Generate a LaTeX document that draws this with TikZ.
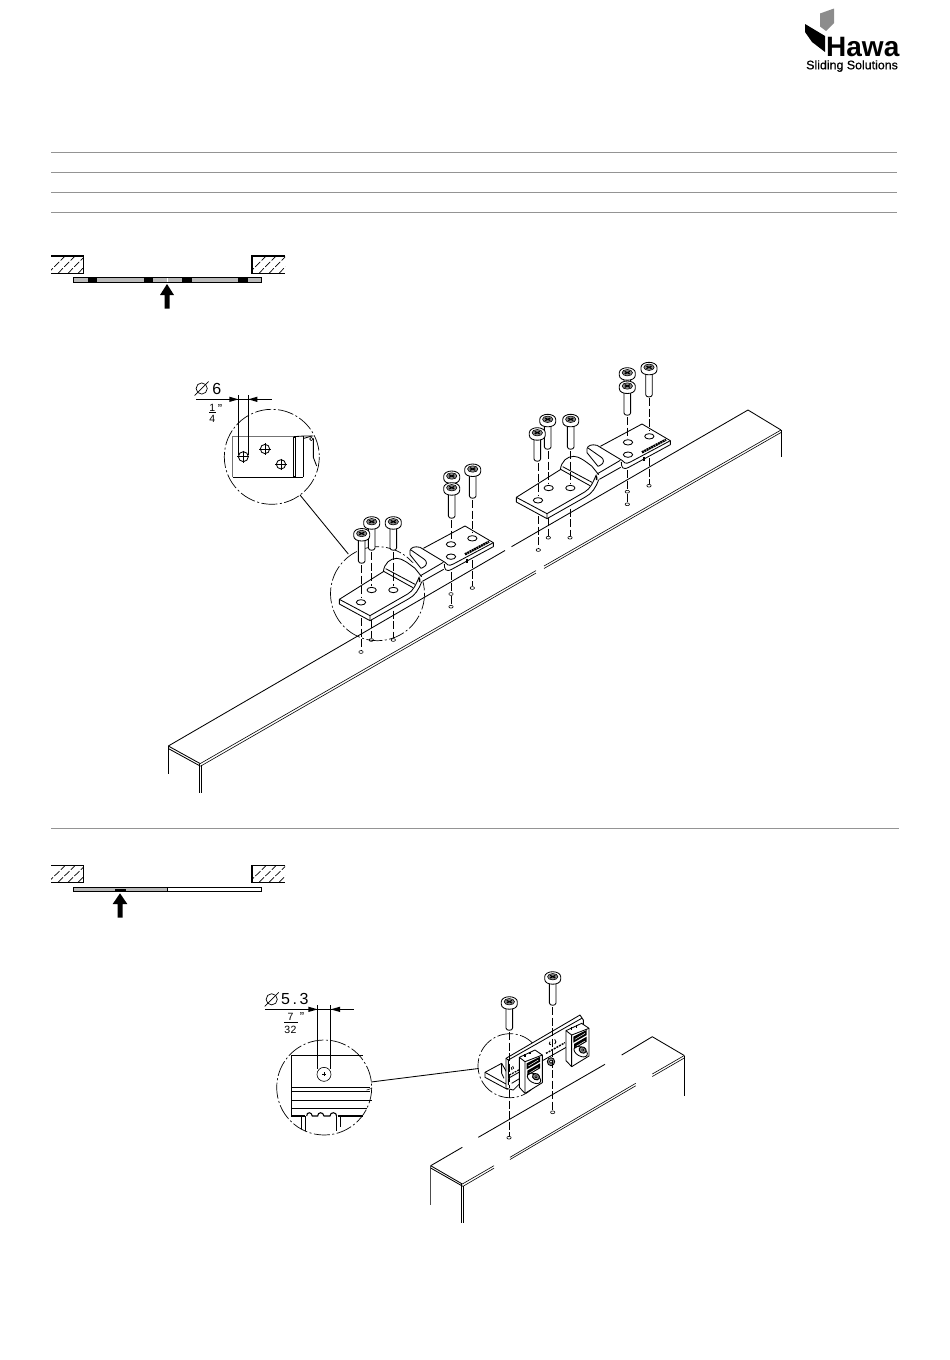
\documentclass[tikz,border=0pt]{standalone}
\usepackage{fontspec}
\setmainfont{Liberation Sans}
\usetikzlibrary{patterns}
\tikzset{
 ln/.style={line width=0.85pt,black,line join=round},
 thin ln/.style={line width=0.6pt,black,line join=round},
 rule/.style={line width=0.9pt,black!42},
 wall/.style={line width=1.4pt,black},
 bar/.style={draw=black,line width=0.9pt,fill=black!27},
 dashline/.style={line width=0.8pt,black,dash pattern=on 8pt off 2.5pt},
 detail/.style={line width=0.7pt,black,dash pattern=on 16pt off 2.5pt on 2pt off 2.5pt},
 dimtext/.style={inner sep=0pt,font=\fontsize{16}{16}\selectfont},
 fractext/.style={inner sep=0pt,font=\fontsize{10.5}{11}\selectfont},
 inchtext/.style={inner sep=0pt,font=\fontsize{13}{13}\selectfont},
}
\newcommand\myscrew[3]{%
 \begin{scope}[shift={(#1,#2)}]
  \filldraw[ln,fill=white] (-3.3,3) -- (-3.3,{#3-#2-2}) .. controls (-3.3,{#3-#2+1}) and (3.3,{#3-#2+1}) .. (3.3,{#3-#2-2}) -- (3.3,3) -- cycle;
  \filldraw[ln,fill=white] (-8,0) -- (-8,2.5) .. controls (-8,6) and (-4,7.5) .. (0,7.5) .. controls (4,7.5) and (8,6) .. (8,2.5) -- (8,0) .. controls (8,-3) and (4,-5) .. (0,-5) .. controls (-4,-5) and (-8,-3) .. (-8,0);
  \filldraw[thin ln,fill=black!45] (0,0) ellipse[x radius=5.2,y radius=3.2];
  \draw[line width=1.1pt,black] (-2.6,-1.3) -- (2.6,1.3) (-2.6,1.3) -- (2.6,-1.3);
 \end{scope}}
\newcommand\myhole[2]{\draw[thin ln] (#1,#2) ellipse[x radius=2.2,y radius=1.4];}
\newcommand\dimsign[2]{\draw[line width=0.7pt] (#1,#2) circle[radius=5.6]; \draw[line width=0.7pt] ({#1-7},{#2+7}) -- ({#1+7},{#2-7});}
\newcommand\myplate{%
 \fill[white] (43,448)--(43,462)--(135,512)--(250,447)--(290,397)--(358,358)--(378,360)--(505,290)--(505,278)--(420,228)--(295,295)--(285,292)--(270,290)--(255,302)--(255,314)--(275,340)--(240,335)--(215,325)--(190,335)--(175,365)--cycle;
 \draw[ln] (43,448)--(175,365) .. controls (178,340) and (195,325) .. (215,325) .. controls (232,325) and (250,340) .. (270,355) -- (290,380);
 \draw[ln] (43,448)--(135,497)--(248,432) .. controls (265,422) and (272,405) .. (283,380);
 \draw[ln] (43,448)--(43,462)--(135,512)--(135,497);
 \draw[ln] (135,512)--(250,447) .. controls (270,437) and (282,418) .. (290,395);
 \draw[ln] (176,364)--(264,413) (182,356)--(270,403);
 \draw[line width=1.6pt] (283,383)--(284,396);
 \draw[ln] (292,394)--(356,358) (285,378)--(355,337);
 \draw[ln] (255,302) .. controls (257,292) and (270,288) .. (285,292) -- (360,337);
 \draw[ln] (258,300) -- (298,328) .. controls (306,334) and (308,345) .. (295,352);
 \draw[ln] (255,302) -- (255,314) -- (288,355) -- (295,352);
 \draw[ln] (295,295)--(420,228)--(505,278)--(505,290)--(380,358) .. controls (362,367) and (358,358) .. (358,342);
 \draw[ln] (505,278)--(385,342) .. controls (372,349) and (364,345) .. (360,337);
 \draw[line width=2.4pt,dash pattern=on 2pt off 0.6pt] (420,313)--(492,275);
 \draw[line width=1.5pt] (426,326)--(426,339);
}
\begin{document}
\begin{tikzpicture}[x=1pt,y=-1pt]
\useasboundingbox (0,0) rectangle (950,1360);
% logo
\fill[black!45] (820,13.5) -- (834,8.5) -- (834,23) -- (826,31) -- (820,26.5) -- cycle;
\fill[black] (805,24) -- (825,36) -- (825,52) -- (812,42) -- (805,32) -- cycle;
\node[anchor=base west,inner sep=0pt,font=\fontsize{28}{28}\selectfont\bfseries] (hawa) at (826,56) {Hawa};
\node[anchor=base west,inner sep=0pt,font=\fontsize{12.4}{13}\selectfont\addfontfeature{FakeBold=0.6}] (sliding) at (806,69.3) {Sliding Solutions};
% rules
\foreach \yy in {152,172,192,212} {\draw[rule] (51,\yy) -- (897,\yy);}
\draw[rule] (51,828) -- (899,828);
% section plans
\foreach \yy/\yb in {256/273.3,865.7/882.3} {
 \begin{scope}
  \clip (51,\yy) rectangle (83.3,\yb);
  \foreach \k in {0,1,2,3} {\draw[line width=0.7pt,dash pattern=on 7pt off 2pt] ({48+\k*10},\yb) -- ({48+\k*10+17},\yy);}
 \end{scope}
 \begin{scope}
  \clip (252,\yy) rectangle (285,\yb);
  \foreach \k in {0,1,2,3} {\draw[line width=0.7pt,dash pattern=on 7pt off 2pt] ({249+\k*10},\yb) -- ({249+\k*10+17},\yy);}
 \end{scope}
 \draw[wall] (51,\yy) -- (83.3,\yy) -- (83.3,\yb) -- (51,\yb);
 \draw[wall] (285,\yy) -- (252,\yy) -- (252,\yb) -- (285,\yb);
}
\filldraw[bar] (73.5,277.5) rectangle (261.5,282.7);
\foreach \a/\b in {87.7/96.7,144/153.3,181.7/191.7,238.3/247.7} {\fill[black] (\a,277.5) rectangle (\b,282.7);}
\draw[line width=0.6pt,white] (167.3,278) -- (167.3,282.2);
\fill[black] (167,284) -- (174,295) -- (169.5,295) -- (169.5,308.5) -- (164.5,308.5) -- (164.5,295) -- (160,295) -- cycle;
\filldraw[bar] (73.5,887.4) rectangle (167.3,891.3);
\draw[line width=0.9pt,fill=white] (167.3,887.4) rectangle (261.5,891.3);
\fill[black] (115,888.8) rectangle (126,891.6);
\fill[black] (120,893.3) -- (127.3,904) -- (122.5,904) -- (122.5,917.7) -- (117.5,917.7) -- (117.5,904) -- (112.7,904) -- cycle;
% beam 1
\draw[ln] (168.3,746) -- (200.2,763.6);
\draw[ln] (168.3,748.5) -- (200.5,766.2);
\draw[ln] (168.3,746) -- (505,550.5) (511.5,546.7) -- (748,410) -- (781,430);
\draw[thin ln] (200.2,763.6) -- (536,570.6) (544,566) -- (781,430);
\draw[thin ln] (201.7,765.5) -- (536,573.1) (544,568.5) -- (781,432.5);
\draw[ln] (168.3,746) -- (168.3,774) (199.3,764) -- (199.3,792.5) (201.7,765) -- (201.7,792.5) (781,430) -- (781,457);
% plate 1
\draw[detail] (377.5,593.7) circle[radius=47];
\draw[dashline] (361,618) -- (361,650);
\draw[dashline] (371.3,620) -- (371.3,638);
\draw[dashline] (393.3,600) -- (393.3,638);
\draw[dashline] (451,572) -- (451,592) (451,596) -- (451,604.7);
\draw[dashline] (472.3,560) -- (472.3,586);
\begin{scope}[shift={(325,450)},x=0.33333pt,y=-0.33333pt]
 \myplate
 \foreach \xx/\yy in {108/457,140/420,205/420,378/283,378/320,442/265} {\draw[ln] (\xx,\yy) ellipse[x radius=14,y radius=8];}
\end{scope}
\foreach \xx/\yy in {361/652,371.3/640,393.3/640,451/594,451/606.7,472.3/588} {\myhole{\xx}{\yy}}
\draw[dashline] (361,565) -- (361,598);
\draw[dashline] (371.3,552) -- (371.3,586);
\draw[dashline] (393.3,552) -- (393.3,586);
\draw[dashline] (451,520) -- (451,540);
\draw[dashline] (472.3,500) -- (472.3,533);
\myscrew{371.7}{521.7}{550}
\myscrew{393.3}{521.7}{550}
\myscrew{361.7}{533.5}{563}
\myscrew{472.7}{469}{498}
\myscrew{451.7}{476}{490}
\myscrew{451.7}{487.7}{518}
% plate 2
\draw[dashline] (538.3,516) -- (538.3,548);
\draw[dashline] (548.3,518) -- (548.3,536);
\draw[dashline] (570,498) -- (570,536);
\draw[dashline] (627.3,470) -- (627.3,489.7) (627.3,493.7) -- (627.3,502.3);
\draw[dashline] (649,458) -- (649,483.7);
\begin{scope}[shift={(502,348)},x=0.33333pt,y=-0.33333pt]
 \myplate
 \foreach \xx/\yy in {108/457,140/420,205/420,378/283,378/320,442/265} {\draw[ln] (\xx,\yy) ellipse[x radius=14,y radius=8];}
\end{scope}
\foreach \xx/\yy in {538.3/550,548.3/537.7,570/537.7,627.3/491.7,627.3/504.3,649/485.7} {\myhole{\xx}{\yy}}
\draw[dashline] (538.3,463) -- (538.3,496);
\draw[dashline] (548.3,451) -- (548.3,484);
\draw[dashline] (570.7,451) -- (570.7,484);
\draw[dashline] (627.3,417) -- (627.3,438);
\draw[dashline] (649,398) -- (649,431);
\myscrew{547.7}{419.3}{449}
\myscrew{570.7}{419.3}{449}
\myscrew{537.3}{432.7}{461}
\myscrew{649}{367.3}{396.7}
\myscrew{627.3}{372.7}{388}
\myscrew{627.3}{386}{415}
% detail 1
\draw[detail] (271.8,456.8) circle[radius=47.5];
\draw[ln] (300,495) -- (348.3,554);
\begin{scope}[shift={(180,370)},x=0.33333pt,y=-0.33333pt]
 \draw[line width=0.8pt,black!55] (158,320) -- (158,198) -- (340,198);
 \draw[ln] (340,200) -- (372,198) -- (400,198);
 \draw[line width=0.9pt] (158,322) -- (240,322) -- (370,322);
 \fill[black] (338,202) rectangle (348,320);
 \fill[white] (341.5,204) rectangle (344.5,318);
 \draw[ln] (370,198) -- (370,322);
 \draw[ln] (372,205) -- (395,198) (400,205) -- (400,262) -- (410,288);
 \draw[thin ln] (394,207) circle[radius=5];
 \foreach \xx/\yy/\rr in {190/260/15,255/237/14,303/283/14} {
  \draw[ln] (\xx,\yy) circle[radius=\rr];
  \draw[ln] ({\xx-\rr-3},\yy) -- ({\xx+\rr+3},\yy) (\xx,{\yy-\rr-3}) -- (\xx,{\yy+\rr+3});
 }
 \draw[ln] (175,75) -- (175,255) (205,75) -- (205,255);
 \draw[ln] (48,88) -- (275,88);
 \fill[black] (175,88) -- (148,80) -- (148,96) -- cycle;
 \fill[black] (205,88) -- (232,80) -- (232,96) -- cycle;
\end{scope}
\dimsign{201.7}{388.5}
\node[dimtext] (six) at (216.7,389) {6};
\node[fractext] (one) at (212.3,408.3) {1};
\draw[line width=0.8pt] (209,412.8) -- (215.5,412.8);
\node[fractext] (four) at (212.3,419.3) {4};
\node[inchtext] (inchA) at (220,409) {"};
% beam 2
\draw[ln] (430.7,1165.7) -- (462.3,1184);
\draw[ln] (430.7,1168) -- (462.8,1186.3);
\draw[ln] (430.7,1165.7) -- (462.3,1147.3) (478.3,1137.3) -- (605,1064.3) (621.7,1055) -- (652.3,1036.7) -- (684.3,1055.5);
\draw[thin ln] (462.3,1184) -- (494,1165.7) (510,1157.3) -- (635.7,1083.3) (652.3,1074) -- (684.3,1055.5);
\draw[thin ln] (463.5,1186) -- (494,1168.2) (510,1159.5) -- (635.7,1085.8) (652.3,1076.5) -- (684.3,1058);
\draw[thin ln,black!70] (430,1165.7) -- (430,1205);
\draw[ln] (461.7,1184) -- (461.7,1223) (463.5,1186) -- (463.5,1223) (684.3,1055.5) -- (684.3,1095.7);
% detail 2
\draw[detail] (510,1065.7) circle[radius=32];
\draw[ln] (371,1082) -- (478.5,1068.5);
\draw[detail] (324.2,1087.5) circle[radius=47.5];
\begin{scope}[shift={(255,980)},x=0.33333pt,y=-0.33333pt]
 \draw[ln] (188,75) -- (188,268) (227,75) -- (227,268);
 \draw[ln] (30,88) -- (297,88);
 \fill[black] (188,88) -- (160,80) -- (160,96) -- cycle;
 \fill[black] (227,88) -- (255,80) -- (255,96) -- cycle;
 \draw[line width=0.9pt] (108,408) -- (108,227) -- (325,227);
 \draw[thin ln] (207,283) circle[radius=21];
 \draw[thin ln] (207,277) -- (207,289) (201,283) -- (213,283);
 \draw[line width=0.9pt] (108,322) -- (345,322) (108,335) -- (345,335) (108,362) -- (350,362);
 \draw[line width=1.5pt] (108,385) -- (335,385);
 \draw[line width=1.1pt] (108,408) -- (150,408) (250,408) -- (325,408);
 \draw[line width=1pt] (140,408) -- (140,447) (150,408) -- (150,452) (245,408) -- (245,452) (255,408) -- (255,440);
 \draw[line width=1.1pt] (155,408) .. controls (155,395) and (170,395) .. (172,408) -- (188,408) .. controls (188,395) and (205,395) .. (207,408) -- (225,408) .. controls (225,395) and (245,395) .. (245,408);
 \draw[thin ln] (335,330) -- (350,325);
\end{scope}
\dimsign{271.7}{999.3}
\node[dimtext,anchor=west] (fivethree) at (281,999.3) {5\kern2.5pt.\kern2.5pt3};
\node[fractext] (seven) at (290.5,1017.3) {7};
\draw[line width=0.8pt] (284,1022.7) -- (297.7,1022.7);
\node[fractext] (thirtytwo) at (290.5,1029.5) {3\kern0.5pt2};
\node[inchtext] (inchB) at (302,1017) {"};
% bracket
\draw[dashline] (509,1090) -- (509,1135.7);
\draw[dashline] (552.7,1070) -- (552.7,1110.3);
\myhole{509}{1137.7}
\myhole{552.7}{1112.3}
\begin{scope}[shift={(470,960)},x=0.33333pt,y=-0.33333pt]
 \filldraw[ln,fill=white] (45,337) -- (95,310) -- (112,340) -- (112,388) -- (45,352) -- cycle;
 \draw[ln] (45,337) -- (110,373);
 \draw[ln] (95,310) -- (95,340) -- (102,355);
 \filldraw[ln,fill=white] (108,295) -- (330,165) -- (340,180) -- (340,205) -- (292,232) -- (292,260) -- (150,340) -- (150,370) -- (130,390) -- (108,385) -- cycle;
 \draw[ln] (108,295) -- (115,300) -- (335,175);
 \draw[ln] (115,300) -- (115,355) -- (150,335);
 \draw[ln] (115,355) -- (115,375) (125,370) -- (150,355);
 \draw[line width=1.4pt,dash pattern=on 2pt off 1pt] (228,280) -- (285,248);
 \draw[line width=1.2pt,dash pattern=on 2pt off 1pt] (118,345) -- (150,328);
 \draw[ln] (124,322) -- (126,330) (128,318) -- (131,326);
 \draw[ln] (240,245) .. controls (235,250) and (238,256) .. (243,254) (254,238) .. controls (260,242) and (258,250) .. (254,252);
 \filldraw[ln,fill=black!45] (243,305) ellipse[x radius=11,y radius=12];
 \filldraw[thin ln,fill=white] (243,305) circle[radius=5];
 \foreach \dx/\dy in {0/0,140/-80} {
 \begin{scope}[shift={(\dx,\dy)}]
  \filldraw[ln,fill=white] (148,292) -- (195,270) -- (217,285) -- (217,368) -- (165,400) -- (148,382) -- cycle;
  \draw[ln] (148,292) -- (165,305) -- (217,285) (165,305) -- (165,400);
  \fill[black] (170,310) -- (210,290) -- (210,305) -- (170,328) -- cycle;
  \fill[black] (172,332) -- (210,310) -- (210,325) -- (172,347) -- cycle;
  \draw[line width=0.5pt,white] (175,318) -- (205,300) (177,340) -- (205,323);
  \draw[ln,rotate around={-30:(192,355)}] (192,355) ellipse[x radius=22,y radius=13];
  \filldraw[line width=1pt,fill=black!45,rotate around={-30:(198,350)}] (198,350) ellipse[x radius=11,y radius=9];
  \filldraw[thin ln,fill=white] (198,350) circle[radius=3.5];
  \draw[line width=1.4pt] (165,282) -- (165,290) (180,275) -- (180,283);
 \end{scope}}
\end{scope}
\draw[dashline] (509,1032) -- (509,1088);
\draw[dashline] (552.7,1007) -- (552.7,1070);
\myscrew{509.3}{1001.7}{1030}
\myscrew{552.7}{976.7}{1005}
\end{tikzpicture}
\end{document}
